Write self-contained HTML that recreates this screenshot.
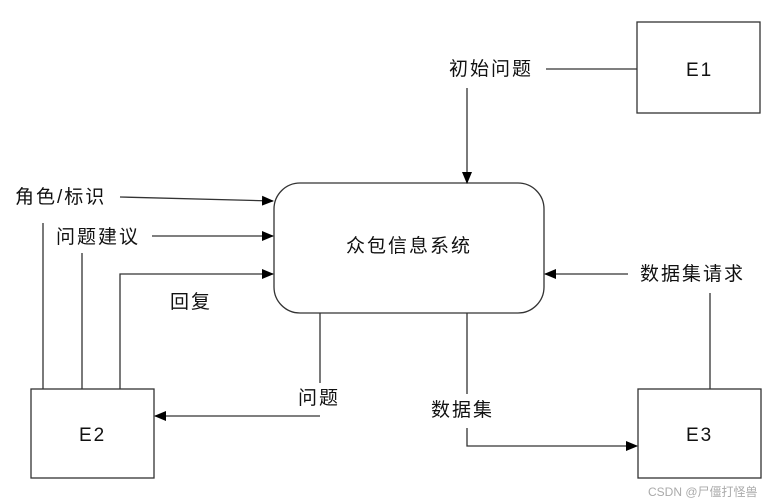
<!DOCTYPE html>
<html><head><meta charset="utf-8"><style>
body{margin:0;background:#fff;}
svg{display:block;}
text{font-family:"Liberation Sans","Noto Sans CJK SC",sans-serif;font-size:19px;letter-spacing:2px;fill:#111;}
</style></head><body>
<svg width="783" height="503" viewBox="0 0 783 503" xmlns="http://www.w3.org/2000/svg">
<defs><marker id="a" markerWidth="12" markerHeight="10" refX="11" refY="5" orient="auto" markerUnits="userSpaceOnUse"><path d="M0,0 L12,5 L0,10 Z" fill="#000"/></marker></defs>
<g stroke="#333" stroke-width="1.3" fill="none">
<rect x="637" y="22" width="123" height="91" fill="#fff"/>
<rect x="638" y="389" width="123" height="89" fill="#fff"/>
<rect x="31" y="389" width="123" height="89" fill="#fff"/>
<rect x="274" y="183" width="270" height="130" rx="26" fill="#fff"/>
<line x1="546" y1="69" x2="637" y2="69"/>
<line x1="467" y1="88" x2="467" y2="183" marker-end="url(#a)"/>
<line x1="628" y1="274" x2="545" y2="274" marker-end="url(#a)"/>
<line x1="710" y1="293" x2="710" y2="389"/>
<line x1="467" y1="313" x2="467" y2="394"/>
<polyline points="467,428 467,446 637,446" marker-end="url(#a)"/>
<line x1="120" y1="197" x2="273" y2="201" marker-end="url(#a)"/>
<line x1="43" y1="223" x2="43" y2="389"/>
<line x1="152" y1="236" x2="273" y2="236" marker-end="url(#a)"/>
<line x1="82" y1="253" x2="82" y2="389"/>
<polyline points="120,389 120,274 273,274" marker-end="url(#a)"/>
<line x1="320" y1="313" x2="320" y2="383"/>
<line x1="320" y1="416" x2="155" y2="416" marker-end="url(#a)"/>
</g>
<text x="449" y="75">初始问题</text>
<text x="686" y="76">E1</text>
<text x="686" y="441">E3</text>
<text x="79" y="441">E2</text>
<text x="346" y="252">众包信息系统</text>
<text x="640" y="280">数据集请求</text>
<text x="431" y="416">数据集</text>
<text x="15" y="203">角色/标识</text>
<text x="56" y="243">问题建议</text>
<text x="170" y="308">回复</text>
<text x="298" y="404">问题</text>
<text x="648" y="496" style="font-size:12px;letter-spacing:0;fill:#aaa">CSDN @尸僵打怪兽</text>
</svg>
</body></html>
